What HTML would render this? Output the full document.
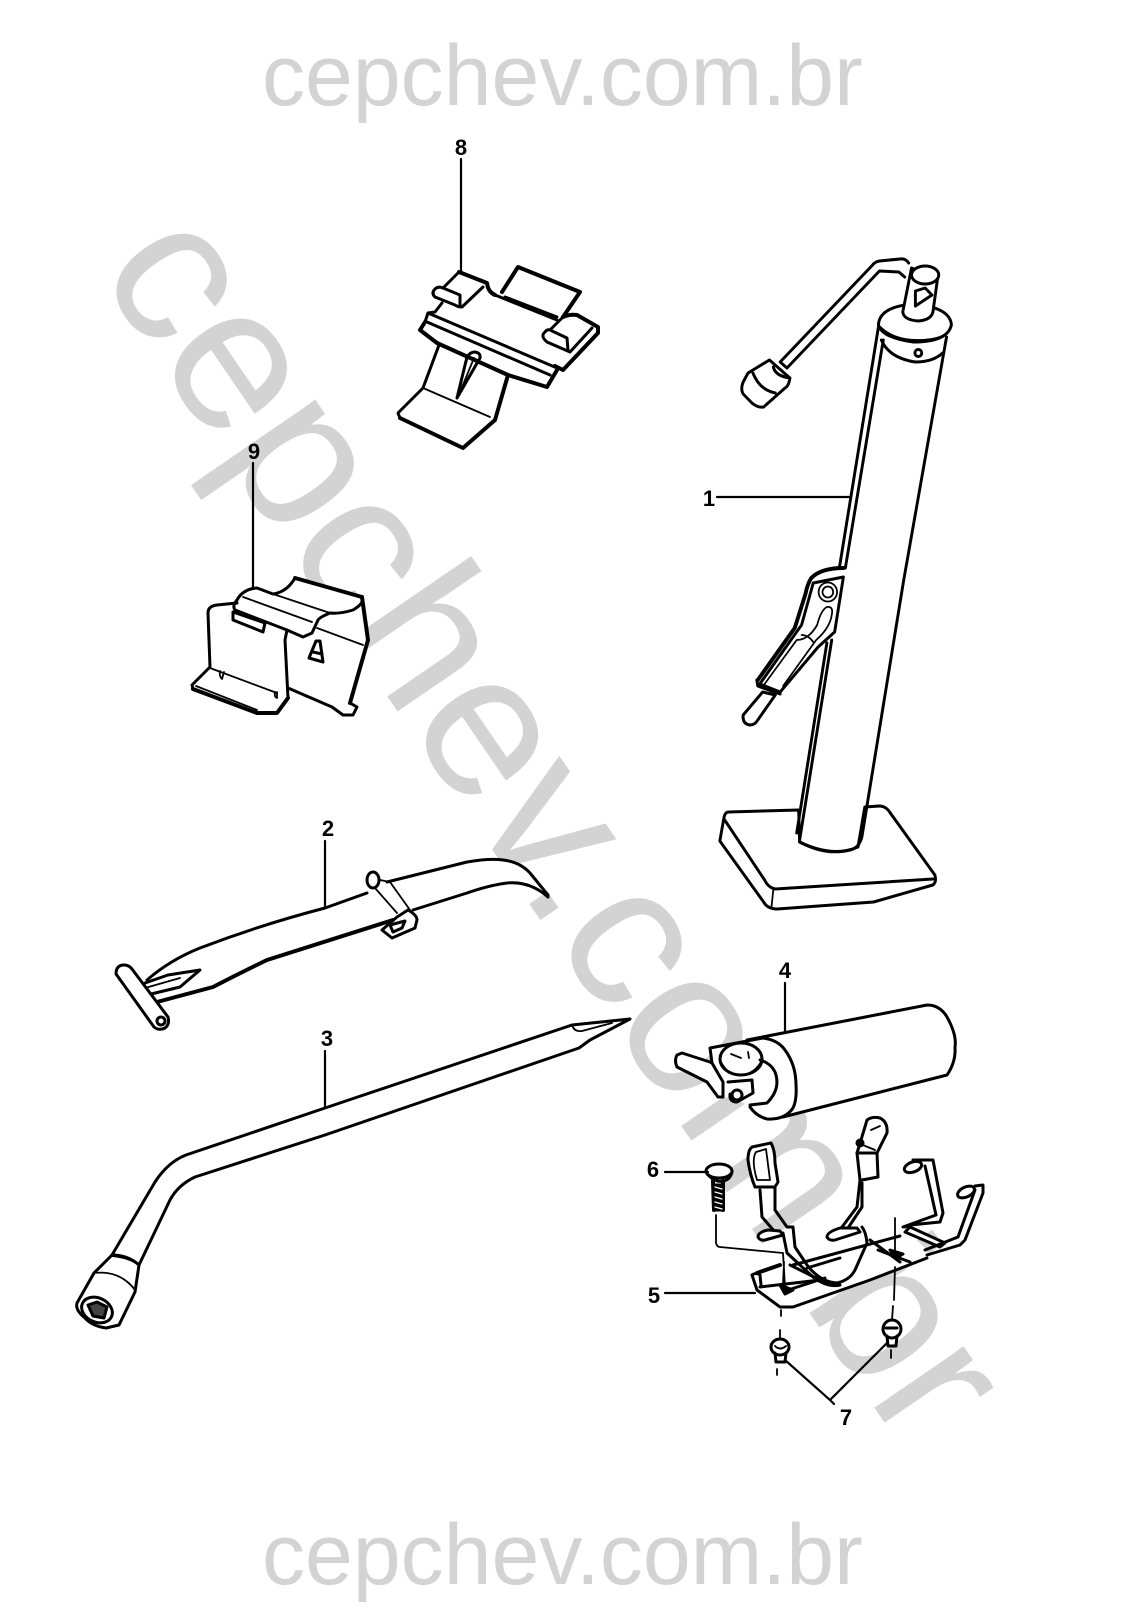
<!DOCTYPE html>
<html><head><meta charset="utf-8"><style>
html,body{margin:0;padding:0;background:#fff;width:1124px;height:1624px;overflow:hidden}
svg{display:block}
.wm{font-family:"Liberation Sans",sans-serif;fill:#d3d3d3}
.n{font-family:"Liberation Sans",sans-serif;font-weight:bold;font-size:22px;fill:#000;text-anchor:middle}
g.p path,g.p ellipse,g.p circle{fill:none;stroke:#000;stroke-width:3;stroke-linejoin:round;stroke-linecap:round}
g.p .w{fill:#fff}
g.p .t{stroke-width:1.8}
g.p .h{stroke-width:4}
g.p .k{fill:#000}
</style></head><body>
<svg width="1124" height="1624" viewBox="0 0 1124 1624" xmlns="http://www.w3.org/2000/svg">
<text class="wm" x="262" y="105" font-size="86">cepchev.com.br</text>
<text class="wm" x="262" y="1584" font-size="86">cepchev.com.br</text>
<text class="wm" font-size="205" transform="translate(96 271) rotate(55.6)">cepchev.com.br</text>

<g class="p">
<!-- part 1: jack -->
<g transform="translate(18.3 0) scale(.973 1)">
<path class="w" d="M884 327 L844 567 Q824 568 812 580 L798 628 L760 680 L759 685 L783 693 L822 647 L831 643 L800 833 L803 842 Q837 858 863 847 L910 580 L954 337 L959 325 Q955 308 940 312 L945 277 L945 268 L918 268 L909 312 Q885 312 884 327Z" style="stroke:none"/>
<path class="w" d="M802 810 L730 812 Q726 812 725 819 L721 841 L766 902 Q770 909 780 909 L879 902 L940 885 Q944 882 942 875 L894 810 Q890 806 885 806 L870 807 L863 847 Q837 858 803 842Z"/>
<path d="M726 820 L767 880 Q771 888 778 889 L940 879"/><path class="t" d="M776 889 L774 908"/>
<path d="M884 327 L844 567M889 340 L850 568M954 337 L910 580 L867 837 Q864 848 855 850 Q830 856 803 842"/>
<path d="M831 643 L800 833M836 640 L803 840"/>
<path class="w" d="M922 304 Q885 306 884 325 Q888 338 920 342 Q955 342 959 325 Q958 308 922 304Z"/>
<path d="M887 340 Q895 358 922 362 Q940 362 950 353"/>
<path class="t" d="M886 327 Q900 340 925 340 Q945 340 955 333"/>
<circle cx="925" cy="353" r="3.5"/>
<path class="w" d="M918 268 L909 312 Q910 320 925 321 Q938 320 940 312 L945 277 Z"/>
<ellipse class="w" cx="932" cy="275" rx="14" ry="9"/>
<path d="M922 291 L932 288 L939 295 L922 306Z"/>
<path class="w" d="M915 263 Q912 258 906 259 L885 261 Q880 262 878 265 L783 362 L790 368 L885 271 L905 272 L911 277"/>
<path class="w" d="M772 360 L793 378 Q792 386 788 388 L766 407 Q760 408 754 403 L745 394 Q742 389 745 382 L750 373Z"/>
<path d="M755 373 Q762 390 778 393"/>
<path d="M776 367 Q778 376 793 378"/>
<!-- lever -->
<path class="w" d="M765 692 L745 715 Q744 724 752 725 Q757 725 760 720 L778 695Z"/>
<path class="h" d="M848 568 Q825 568 815 578 Q811 584 809 594 L798 628 L760 680"/>
<path class="w" d="M848 577 L839 632 L822 647 L783 692 L762 684 L805 625 L817 583Z"/>
<path d="M759 680 L760 686 L783 694"/>
<ellipse cx="832" cy="592" rx="9.5" ry="9.5" class="t"/><circle cx="832" cy="592" r="5.5" class="t"/>
<path class="t" d="M831 607 Q825 610 821 625 Q812 640 800 640 L767 684M831 607 Q838 606 836 615 Q834 628 820 640 L786 686"/>
<path class="t" d="M805 635 Q812 635 817 642"/>
</g>

<!-- part 8 -->
<path class="w" style="stroke:none" d="M461 272 L443 288 L435 290 L435 297 L455 305 L442 303 L435 312 L428 313 L425 322 L420 330 L437 343 L439 345 L423 388 L398 413 L400 418 L463 448 L495 420 L508 375 L547 387 L557 370 L563 370 L598 333 L598 327 L577 315 L563 317 L580 292 L518 267 L502 292 L495 295 L490 293 L487 283Z"/>
<path class="h" d="M459 272 L487 283 Q488 292 495 295"/><path d="M443 288 L459 272"/>
<path d="M483 287 L462 307 Q458 307 455 305 L435 297 Q431 293 435 289 Q438 286 443 288 L460 295 L460 305"/>
<path class="h" d="M502 292 L518 267 L580 292 L563 317"/>
<path d="M495 295 L557 320M505 297 L557 317"/>
<path class="h" d="M563 317 Q570 314 577 315 L598 327 L598 333 L563 370 L555 366"/>
<path d="M592 328 L570 352 L547 342 Q540 336 545 332 Q547 329 550 330 L567 338 L568 350M550 330 L563 317"/>
<path d="M442 303 L435 312 L428 313 L425 322"/>
<path class="h" d="M425 322 L420 330 L437 343 L508 375 L547 387 L557 370"/>
<path d="M428 313 L557 368M427 322 L550 375"/>
<path d="M439 345 L423 388 L398 413 L400 418"/>
<path class="h" d="M400 418 L463 448 L495 420 L508 375"/>
<path class="t" d="M423 388 L490 417"/>
<path d="M475 352 Q481 353 480 358 L457 398 L467 357 Q470 352 475 352Z"/><path class="t" d="M474 358 L460 392"/>

<!-- part 9 -->
<path class="w" style="stroke:none" d="M237 600 Q243 589 257 588 L273 594 Q285 592 295 578 L362 597 L368 640 L350 703 L357 707 L353 715 L343 715 L332 707 L288 688 L288 698 L277 713 L257 713 L192 685 L210 667 L208 613 Q210 605 217 605Z"/>
<path d="M237 600 Q243 589 257 588 L273 594 Q287 592 295 578"/>
<path class="h" d="M295 578 L362 597"/>
<path d="M362 597 Q365 603 353 610 Q340 614 330 613 Q320 617 318 620 L312 633 L303 637 L287 630 L235 610 Q232 606 237 600"/>
<path d="M237 603 L217 605 Q208 606 208 613 L210 667 L192 685 L193 689"/>
<path class="h" d="M193 689 L257 713 L277 713 L288 698"/>
<path d="M288 698 L285 640 L287 630"/>
<path class="t" d="M210 668 L277 693M196 686 L257 710"/>
<path d="M233 612 L265 623 L263 632 L233 620Z"/>
<path class="t" d="M243 597 L312 622M273 594 L330 613M317 628 L363 645"/>
<path class="t" d="M220 671 Q219 676 222 679 L224 672M275 692 Q274 697 277 698 L277 692"/>
<path class="h" d="M362 597 L368 640 L350 703"/>
<path d="M350 703 L357 707 L353 715 L343 715 L332 707 L288 688"/>
<path d="M316 641 L309 658 L323 662 L320 641Z M313 652 L322 654"/>

<!-- part 2 -->
<path class="w" style="stroke:none" d="M147 980 Q170 960 200 948 L325 908 L367 893 L378 873 L387 882 L467 862 Q490 858 503 860 Q520 862 530 873 L548 895 Q530 882 507 883 L467 893 L413 910 L417 920 L415 928 L392 938 L382 930 L393 920 L267 960 L213 987 L157 1002Z"/>
<path d="M147 980 Q170 960 200 948 Q260 925 325 908 L367 893"/>
<path class="h" d="M157 1002 L213 987 Q240 973 267 960 L393 920"/>
<path d="M387 882 L467 862 Q490 858 503 860 Q520 862 530 873 L548 895"/>
<path d="M413 910 L467 893 Q490 885 507 883 Q530 881 548 897"/>
<path d="M145 983 L168 975 L200 970 L180 987 L147 995"/><path class="t" d="M145 988 L180 978"/>
<path class="w" d="M116 974 Q116 965 124 965 Q129 965 132 969 L168 1017 Q170 1024 165 1028 Q159 1031 154 1027Z"/>
<circle cx="161" cy="1021" r="4"/>
<ellipse cx="373" cy="880" rx="6" ry="8"/>
<path class="t" d="M380 880 L390 882 L410 910M375 888 L397 913"/>
<path class="w" d="M397 917 L408 910 Q417 915 417 920 L415 928 L392 938 L382 930Z"/>
<path d="M390 925 L405 921 L402 928 L393 932Z"/>

<!-- part 3 -->
<path class="w" style="stroke:none" d="M112 1255 L155 1182 Q168 1162 186 1155 L325 1108 L572 1025 L630 1019 L590 1040 L579 1048 L325 1135 L195 1177 Q178 1185 170 1200 L139 1265 L135 1292 L119 1325 L106 1328 L85 1318 L77 1303 L94 1273Z"/>
<path d="M112 1255 L155 1182 Q168 1162 186 1155 L325 1108 L572 1025 L630 1019 L590 1040 L579 1048 L325 1135 L195 1177 Q178 1185 170 1200 L139 1265"/>
<path class="t" d="M572 1025 Q574 1032 582 1031 L612 1023"/>
<path d="M94 1273 L112 1255 Q128 1255 139 1265 L135 1292 L119 1325 L106 1328 Q92 1326 85 1318 Q75 1310 77 1303Z"/>
<path class="t" d="M94 1273 Q120 1270 135 1290M112 1256 Q130 1258 139 1265"/>
<ellipse cx="97" cy="1310" rx="16" ry="12" transform="rotate(25 97 1310)"/>
<path class="k" d="M88 1305 L97 1302 L107 1307 L104 1318 L93 1316Z" style="fill:#444"/>

<!-- part 4 -->
<path class="w" style="stroke:none" d="M747 1040 L927 1005 Q940 1005 947 1017 Q960 1040 955 1047 Q957 1062 947 1075 L783 1117 Q770 1122 760 1117 L750 1107 L735 1098 L718 1097 L707 1082 L677 1067 L677 1055 L710 1062 L710 1048Z"/>
<path d="M747 1040 L927 1005 Q940 1005 947 1017 Q957 1035 955 1047 Q956 1062 947 1075 L783 1117"/>
<path d="M763 1038 Q778 1040 785 1050 Q796 1065 796 1085 Q797 1100 793 1108 Q785 1120 767 1119 Q756 1116 750 1107"/>
<path d="M760 1060 Q773 1064 776 1075 Q780 1090 767 1103 L750 1105"/>
<ellipse cx="741" cy="1059" rx="21" ry="16"/>
<path class="t" d="M721 1062 Q729 1077 741 1075 Q755 1074 762 1060"/>
<path class="t" d="M731 1054 L741 1058M748 1052 L749 1058"/>
<path class="w" d="M677 1067 Q674 1060 677 1055 L682 1053 L710 1062 L712 1063 L723 1082 L723 1097 L718 1097 L707 1082Z"/>
<path d="M712 1063 L710 1048 L763 1038"/>
<circle cx="737" cy="1095" r="5"/>
<path d="M728 1082 L752 1080 L753 1093 L737 1102 Q729 1102 730 1094"/>

<!-- part 5 -->
<path class="w" style="stroke:none" d="M752 1275 L780 1265 L903 1227 L927 1250 L927 1258 L793 1307 L780 1307 L757 1290Z"/>
<path d="M752 1275 L757 1290 L780 1307 L793 1307 L870 1280 L927 1258"/>
<path d="M752 1275 Q756 1272 760 1275 L761 1285"/>
<path class="h" d="M757 1273 L780 1265"/>
<path d="M793 1265 L900 1236M807 1268 L840 1258M790 1265 L830 1285M870 1240 L900 1262M760 1287 L820 1280"/>
<path d="M785 1291 L825 1278M878 1250 L910 1262"/>
<!-- wires -->
<path d="M913 1160 L933 1160 L943 1213 L940 1222 L910 1225 L905 1227"/>
<path d="M925 1166 L936 1215 L903 1227"/>
<ellipse class="w" cx="913" cy="1167" rx="9" ry="5" transform="rotate(-20 913 1167)"/>
<path class="w" d="M910 1227 L945 1243 L940 1247 L905 1232Z"/>
<path d="M975 1186 L983 1185 L983 1193 L965 1240 L960 1245 L927 1255"/>
<path d="M975 1190 L958 1237 L925 1250"/>
<ellipse class="w" cx="966" cy="1192" rx="9" ry="5" transform="rotate(-25 966 1192)"/>
<!-- left strap -->
<path class="w" d="M752 1147 L771 1143 Q775 1150 775 1163 L778 1182 Q775 1188 773 1187 L755 1187 Q750 1175 748 1160 Q748 1150 752 1147Z"/>
<path class="t" d="M756 1152 L766 1149 L770 1180 L757 1180 Q751 1160 756 1152Z"/>
<path d="M760 1190 L762 1217 L775 1232M775 1187 L775 1210 L787 1227 L793 1227 L795 1247 L807 1265 Q820 1282 837 1283 Q850 1280 855 1270 L867 1243 Q866 1232 862 1227"/>
<path d="M783 1233 L787 1253 L813 1277 Q828 1288 840 1285 L830 1285"/>
<path class="w" d="M768 1230 Q758 1232 758 1237 Q760 1241 765 1240 L783 1235 L780 1231Z"/>
<!-- right strap -->
<path d="M857 1153 L860 1180 L857 1207 L842 1227M877 1153 L878 1177 L862 1180M862 1183 L862 1207 L848 1228"/>
<path class="w" d="M840 1228 Q827 1232 827 1237 Q829 1241 835 1240 L860 1232 L857 1228Z"/>
<path class="w" d="M857 1153 L861 1140 L867 1120 Q872 1116 880 1118 Q888 1122 887 1133 L877 1153Z"/>
<path class="t" d="M871 1130 L880 1126M858 1143 L875 1150"/>
<circle cx="860" cy="1143" r="3"/>
<!-- screw -->
<ellipse class="w" cx="719" cy="1171" rx="13" ry="7"/>
<path d="M708 1175 Q716 1183 723 1181 Q730 1180 732 1172"/>
<path class="h" d="M713 1181 L714 1210M723 1181 L723 1210"/>
<path class="k" style="stroke-width:1" d="M714 1184 L723 1184 L723 1211 L714 1211Z"/>
<path style="stroke:#fff;stroke-width:1.3" d="M715 1187 L722 1189M715 1192 L722 1194M715 1197 L722 1199M715 1202 L722 1204M715 1207 L722 1209"/>
<path class="t" d="M716 1215 L716 1243 Q717 1247 720 1247 L783 1253 L785 1287"/>
<path class="t" d="M784 1262 L783 1285M781 1310 L781 1316M780 1330 L780 1337M895 1218 L895 1253M895 1267 L894 1300M893 1306 L892 1320"/>
<path class="k" d="M780 1285 L793 1290 L785 1294 Z"/><path class="k" d="M890 1250 L903 1254 L896 1258Z"/>
<!-- fasteners -->
<ellipse class="w" cx="780" cy="1347" rx="9" ry="8"/><path class="t" d="M775 1346 Q780 1351 786 1346"/>
<path d="M775 1353 L776 1362 L785 1362 L786 1353"/><path class="t" d="M777 1369 L777 1375"/>
<ellipse class="w" cx="892" cy="1329" rx="9" ry="9"/><path d="M886 1328 L897 1328"/>
<path d="M887 1336 L888 1346 L896 1346 L897 1336"/><path class="t" d="M891 1350 L891 1358"/>
<!-- leaders -->
<path class="t" style="stroke-width:2.2" d="M717 497 L850 497M461 159 L461 272M253 463 L253 587M325 841 L325 907M325 1051 L325 1108M785 983 L785 1032M665 1172 L708 1172M665 1293 L755 1293M785 1360 L830 1400 L834 1404M887 1343 L830 1400"/>
</g>
<text class="n" x="461" y="155">8</text>
<text class="n" x="254" y="459">9</text>
<text class="n" x="709" y="506">1</text>
<text class="n" x="328" y="836">2</text>
<text class="n" x="327" y="1046">3</text>
<text class="n" x="785" y="978">4</text>
<text class="n" x="654" y="1303">5</text>
<text class="n" x="653" y="1177">6</text>
<text class="n" x="846" y="1425">7</text>
</svg>
</body></html>
